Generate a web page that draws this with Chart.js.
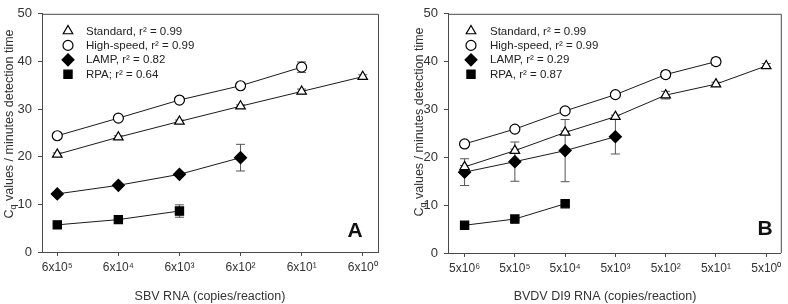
<!DOCTYPE html>
<html>
<head>
<meta charset="utf-8">
<script src="https://cdn.jsdelivr.net/npm/chart.js@4.4.0/dist/chart.umd.min.js"></script>
<style>
  html, body { margin: 0; padding: 0; background: #fff; }
  #wrap { position: relative; width: 788px; height: 304px; overflow: hidden; }
  .pane { position: absolute; top: 0; width: 394px; height: 304px; }
  #paneA { left: 0; }
  #paneB { left: 394px; }
</style>
</head>
<body>
<div id="wrap">
  <div class="pane" id="paneA"><canvas id="cA" width="394" height="304"></canvas></div>
  <div class="pane" id="paneB"><canvas id="cB" width="394" height="304"></canvas></div>
</div>
<script>
// ---------- Panel A (SBV) ----------
const catsA = ['6x10⁵', '6x10⁴', '6x10³', '6x10²', '6x10¹', '6x10⁰'];
const stdA = [20.5, 24.1, 27.4, 30.6, 33.7, 36.8];
const stdErrA = [0.3, 0.3, 0.3, 0.3, 0.5, 0.4];
const hsA = [24.4, 28.1, 31.9, 34.9, 38.8];
const hsErrA = [0.2, 0.2, 0.2, 0.2, 1.1];
const lampA = [12.2, 14.0, 16.3, 19.8];
const lampErrA = [0.3, 0.3, 0.3, 2.8];
const rpaA = [5.7, 6.8, 8.6];
const rpaErrA = [0.2, 0.2, 1.3];
const legendA = ['Standard, r² = 0.99', 'High-speed, r² = 0.99', 'LAMP, r² = 0.82', 'RPA; r² = 0.64'];

// ---------- Panel B (BVDV DI9) ----------
const catsB = ['5x10⁶', '5x10⁵', '5x10⁴', '5x10³', '5x10²', '5x10¹', '5x10⁰'];
const stdB = [18.0, 21.4, 25.2, 28.5, 33.0, 35.3, 39.1];
const stdErrB = [0.3, 0.3, 0.3, 0.3, 0.8, 0.4, 0.5];
const hsB = [22.8, 25.9, 29.7, 33.1, 37.3, 40.0];
const hsErrB = [0.2, 0.2, 0.2, 0.2, 0.7, 0.8];
const lampB = [16.9, 19.1, 21.4, 24.3];
const lampErrB = [2.8, 4.1, 6.5, 3.6];
const rpaB = [5.8, 7.1, 10.3];
const rpaErrB = [0.2, 0.2, 0.5];
const legendB = ['Standard, r² = 0.99', 'High-speed, r² = 0.99', 'LAMP, r² = 0.29', 'RPA, r² = 0.87'];

const yTicks = [0, 10, 20, 30, 40, 50];
const FONT = '"Liberation Sans", Arial, sans-serif';
const AXIS = '#4a4a4a';

const styles = [
  { pointStyle: 'triangle', radius: 5.5, bg: '#ffffff', border: '#000000' },
  { pointStyle: 'circle', radius: 5, bg: '#ffffff', border: '#000000' },
  { pointStyle: 'rectRot', radius: 6, bg: '#000000', border: '#000000' },
  { pointStyle: 'rect', radius: 5.8, bg: '#000000', border: '#000000' }
];

function toXY(vals) { return vals.map((v, i) => ({ x: i, y: v })); }

function makeDatasets(series, errs, labels) {
  return series.map((vals, k) => ({
    label: labels[k],
    data: toXY(vals),
    errs: errs[k],
    showLine: true,
    borderColor: '#1a1a1a',
    borderWidth: 1,
    pointStyle: styles[k].pointStyle,
    pointRadius: styles[k].radius,
    pointHoverRadius: styles[k].radius,
    pointBackgroundColor: styles[k].bg,
    pointBorderColor: styles[k].border,
    pointBorderWidth: 1.2,
    order: k
  }));
}

const errorBars = {
  id: 'errorBars',
  beforeDatasetsDraw(chart) {
    const ctx = chart.ctx, xs = chart.scales.x, ys = chart.scales.y;
    ctx.save();
    ctx.strokeStyle = '#555555';
    ctx.lineWidth = 1;
    chart.data.datasets.forEach(ds => {
      ds.data.forEach((p, i) => {
        const e = ds.errs[i];
        if (!e) return;
        const x = xs.getPixelForValue(p.x);
        const y1 = ys.getPixelForValue(p.y + e);
        const y2 = ys.getPixelForValue(p.y - e);
        ctx.beginPath();
        ctx.moveTo(x, y1); ctx.lineTo(x, y2);
        ctx.moveTo(x - 4.5, y1); ctx.lineTo(x + 4.5, y1);
        ctx.moveTo(x - 4.5, y2); ctx.lineTo(x + 4.5, y2);
        ctx.stroke();
      });
    });
    ctx.restore();
  }
};

const decor = {
  id: 'decor',
  afterDraw(chart, args, o) {
    const ctx = chart.ctx, ca = chart.chartArea;
    ctx.save();
    // frame (top & right)
    ctx.strokeStyle = AXIS;
    ctx.lineWidth = 1;
    ctx.beginPath();
    ctx.moveTo(ca.left, ca.top + 0.5); ctx.lineTo(ca.right + 0.5, ca.top + 0.5);
    ctx.lineTo(ca.right + 0.5, ca.bottom);
    ctx.stroke();

    // legend
    ctx.font = '11.5px ' + FONT;
    ctx.fillStyle = '#222';
    ctx.textBaseline = 'middle';
    ctx.textAlign = 'left';
    chart.data.datasets.forEach((ds, k) => {
      const y = o.legY + k * 14.4;
      const st = styles[k];
      ctx.fillStyle = st.bg; ctx.strokeStyle = st.border; ctx.lineWidth = 1.2;
      Chart.helpers.drawPoint(ctx, { pointStyle: st.pointStyle, radius: st.radius, borderWidth: 1.2 }, o.legMX, y);
      ctx.fillStyle = '#222';
      ctx.fillText(ds.label, o.legTX, y + 0.5);
    });

    // panel letter
    ctx.font = 'bold 21px ' + FONT;
    ctx.fillStyle = '#111';
    ctx.textAlign = 'center';
    ctx.fillText(o.letter, o.letX, o.letY);

    // x title
    ctx.font = '12.5px ' + FONT;
    ctx.fillStyle = '#333';
    ctx.fillText(o.xTitle, o.xtX, o.xtY);

    // y title with subscript
    ctx.translate(o.ytX, o.ytY);
    ctx.rotate(-Math.PI / 2);
    ctx.textBaseline = 'alphabetic';
    ctx.textAlign = 'left';
    const big = '12.5px ' + FONT, small = '9px ' + FONT;
    const rest = ' values / minutes detection time';
    ctx.font = big; const wC = ctx.measureText('C').width, wR = ctx.measureText(rest).width;
    ctx.font = small; const wq = ctx.measureText('q').width;
    const total = wC + wq + wR;
    let x0 = -total / 2;
    const base = 4.5;
    ctx.font = big; ctx.fillText('C', x0, base); x0 += wC;
    ctx.font = small; ctx.fillText('q', x0, base + 3.5); x0 += wq;
    ctx.font = big; ctx.fillText(rest, x0, base);
    ctx.restore();
  }
};

function makeChart(id, cats, series, errs, labels, cfg) {
  return new Chart(document.getElementById(id), {
    type: 'scatter',
    data: { datasets: makeDatasets(series, errs, labels) },
    plugins: [errorBars, decor],
    options: {
      responsive: false,
      devicePixelRatio: 1,
      animation: false,
      events: [],
      layout: { padding: cfg.padding },
      plugins: {
        legend: { display: false },
        tooltip: { enabled: false },
        decor: cfg.decor
      },
      scales: {
        x: {
          type: 'linear',
          min: cfg.xMin, max: cfg.xMax,
          afterBuildTicks: s => { s.ticks = cats.map((c, i) => ({ value: i })); },
          afterFit: s => { s.height = cfg.xH; },
          ticks: {
            callback: (v) => cats[v],
            font: { family: FONT, size: 12 },
            color: '#333',
            padding: 4,
            maxRotation: 0,
            autoSkip: false
          },
          grid: { display: true, drawOnChartArea: false, drawTicks: true, tickLength: 4, color: AXIS },
          border: { display: true, color: AXIS, width: 1 }
        },
        y: {
          min: 0, max: 50,
          afterBuildTicks: s => { s.ticks = yTicks.map(v => ({ value: v })); },
          afterFit: s => { s.width = cfg.yW; },
          ticks: {
            font: { family: FONT, size: 13 },
            color: '#333',
            padding: 6
          },
          grid: { display: true, drawOnChartArea: false, drawTicks: true, tickLength: 4, color: AXIS },
          border: { display: true, color: AXIS, width: 1 }
        }
      }
    }
  });
}

makeChart('cA', catsA, [stdA, hsA, lampA, rpaA], [stdErrA, hsErrA, lampErrA, rpaErrA], legendA, {
  padding: { top: 11, right: 16, left: 0, bottom: 0 },
  xMin: -0.25, xMax: 5.25, xH: 52, yW: 42,
  decor: { legY: 31, legMX: 68, legTX: 86, letter: 'A', letX: 355, letY: 231,
           xTitle: 'SBV RNA (copies/reaction)', xtX: 210, xtY: 297, ytX: 8, ytY: 124 }
});

makeChart('cB', catsB, [stdB, hsB, lampB, rpaB], [stdErrB, hsErrB, lampErrB, rpaErrB], legendB, {
  padding: { top: 11.5, right: 2, left: 0, bottom: 0 },
  xMin: -0.33, xMax: 6.29, xH: 51, yW: 54,
  decor: { legY: 31, legMX: 77, legTX: 96, letter: 'B', letX: 371, letY: 229,
           xTitle: 'BVDV DI9 RNA (copies/reaction)', xtX: 211, xtY: 297, ytX: 24, ytY: 122 }
});
</script>
</body>
</html>
